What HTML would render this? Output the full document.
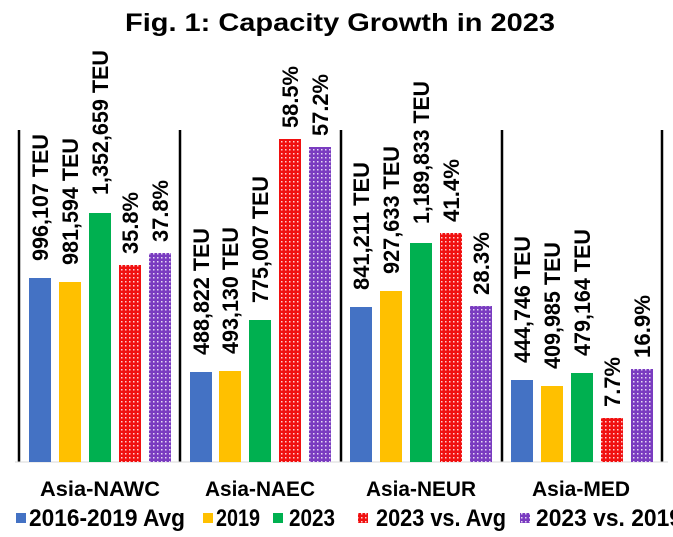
<!DOCTYPE html>
<html><head><meta charset="utf-8"><style>
body{margin:0;background:#fff;}
svg{display:block;font-family:"Liberation Sans","DejaVu Sans",sans-serif;font-weight:bold;}
</style></head><body>
<svg width="673" height="537" viewBox="0 0 673 537">
<defs>
<pattern id="pr" width="4" height="4" patternUnits="userSpaceOnUse"><rect width="4" height="4" fill="#f01010"/><rect x="1" y="1" width="1.5" height="1.5" fill="#ffd0d0"/></pattern>
<pattern id="pp" width="4" height="4" patternUnits="userSpaceOnUse"><rect width="4" height="4" fill="#7a3cc0"/><rect x="1" y="1" width="1.5" height="1.5" fill="#e6d8f5"/></pattern>
</defs>
<text x="340" y="31" font-size="25" text-anchor="middle" fill="#000" textLength="430" lengthAdjust="spacingAndGlyphs">Fig. 1: Capacity Growth in 2023</text>
<g stroke="#000" stroke-width="2.5">
<line x1="19" y1="130" x2="19" y2="462"/><line x1="180" y1="130" x2="180" y2="462"/><line x1="341" y1="130" x2="341" y2="462"/><line x1="502" y1="130" x2="502" y2="462"/><line x1="662" y1="130" x2="662" y2="462"/>
</g>
<line x1="15" y1="462" x2="668" y2="462" stroke="#d9d9d9" stroke-width="1"/>
<g>
<rect x="29" y="278" width="22" height="184" fill="#4472c4"/>
<rect x="59" y="282" width="22" height="180" fill="#ffc000"/>
<rect x="89" y="213" width="22" height="249" fill="#00b050"/>
<rect x="119" y="265" width="22" height="197" fill="url(#pr)"/>
<rect x="149" y="253" width="22" height="209" fill="url(#pp)"/>
<rect x="190" y="372" width="22" height="90" fill="#4472c4"/>
<rect x="219" y="371" width="22" height="91" fill="#ffc000"/>
<rect x="249" y="320" width="22" height="142" fill="#00b050"/>
<rect x="279" y="139" width="22" height="323" fill="url(#pr)"/>
<rect x="309" y="147" width="22" height="315" fill="url(#pp)"/>
<rect x="350" y="307" width="22" height="155" fill="#4472c4"/>
<rect x="380" y="291" width="22" height="171" fill="#ffc000"/>
<rect x="410" y="243" width="22" height="219" fill="#00b050"/>
<rect x="440" y="233" width="22" height="229" fill="url(#pr)"/>
<rect x="470" y="306" width="22" height="156" fill="url(#pp)"/>
<rect x="511" y="380" width="22" height="82" fill="#4472c4"/>
<rect x="541" y="386" width="22" height="76" fill="#ffc000"/>
<rect x="571" y="373" width="22" height="89" fill="#00b050"/>
<rect x="601" y="418" width="22" height="44" fill="url(#pr)"/>
<rect x="631" y="369" width="22" height="93" fill="url(#pp)"/>
</g>
<g font-size="22" fill="#000">
<text transform="translate(48,261) rotate(-90)" textLength="127" lengthAdjust="spacingAndGlyphs">996,107 TEU</text>
<text transform="translate(78,265) rotate(-90)" textLength="127" lengthAdjust="spacingAndGlyphs">981,594 TEU</text>
<text transform="translate(108,195) rotate(-90)" textLength="145" lengthAdjust="spacingAndGlyphs">1,352,659 TEU</text>
<text transform="translate(138,254) rotate(-90)" textLength="62" lengthAdjust="spacingAndGlyphs">35.8%</text>
<text transform="translate(168,242) rotate(-90)" textLength="62" lengthAdjust="spacingAndGlyphs">37.8%</text>
<text transform="translate(209,355) rotate(-90)" textLength="127" lengthAdjust="spacingAndGlyphs">488,822 TEU</text>
<text transform="translate(238,354) rotate(-90)" textLength="127" lengthAdjust="spacingAndGlyphs">493,130 TEU</text>
<text transform="translate(268,303) rotate(-90)" textLength="127" lengthAdjust="spacingAndGlyphs">775,007 TEU</text>
<text transform="translate(298,128) rotate(-90)" textLength="62" lengthAdjust="spacingAndGlyphs">58.5%</text>
<text transform="translate(328,136) rotate(-90)" textLength="62" lengthAdjust="spacingAndGlyphs">57.2%</text>
<text transform="translate(369,290) rotate(-90)" textLength="128" lengthAdjust="spacingAndGlyphs">841,211 TEU</text>
<text transform="translate(399,274) rotate(-90)" textLength="128" lengthAdjust="spacingAndGlyphs">927,633 TEU</text>
<text transform="translate(429,224) rotate(-90)" textLength="143" lengthAdjust="spacingAndGlyphs">1,189,833 TEU</text>
<text transform="translate(459,222) rotate(-90)" textLength="63" lengthAdjust="spacingAndGlyphs">41.4%</text>
<text transform="translate(489,295) rotate(-90)" textLength="63" lengthAdjust="spacingAndGlyphs">28.3%</text>
<text transform="translate(530,363) rotate(-90)" textLength="127" lengthAdjust="spacingAndGlyphs">444,746 TEU</text>
<text transform="translate(560,369) rotate(-90)" textLength="127" lengthAdjust="spacingAndGlyphs">409,985 TEU</text>
<text transform="translate(590,356) rotate(-90)" textLength="127" lengthAdjust="spacingAndGlyphs">479,164 TEU</text>
<text transform="translate(620,407) rotate(-90)" textLength="50" lengthAdjust="spacingAndGlyphs">7.7%</text>
<text transform="translate(650,358) rotate(-90)" textLength="63" lengthAdjust="spacingAndGlyphs">16.9%</text>
</g>
<g font-size="21" fill="#000">
<text x="40" y="496" textLength="120" lengthAdjust="spacingAndGlyphs">Asia-NAWC</text>
<text x="205" y="496" textLength="110" lengthAdjust="spacingAndGlyphs">Asia-NAEC</text>
<text x="366" y="496" textLength="110" lengthAdjust="spacingAndGlyphs">Asia-NEUR</text>
<text x="532" y="496" textLength="98" lengthAdjust="spacingAndGlyphs">Asia-MED</text>
</g>
<g font-size="24" fill="#000">
<rect x="16" y="513" width="10" height="10" fill="#4472c4"/><text x="29" y="526" textLength="156" lengthAdjust="spacingAndGlyphs">2016-2019 Avg</text>
<rect x="203" y="513" width="10" height="10" fill="#ffc000"/><text x="216" y="526" textLength="44" lengthAdjust="spacingAndGlyphs">2019</text>
<rect x="273" y="513" width="10" height="10" fill="#00b050"/><text x="289" y="526" textLength="46" lengthAdjust="spacingAndGlyphs">2023</text>
<rect x="358" y="513" width="10" height="10" fill="url(#pr)"/><text x="376" y="526" textLength="130" lengthAdjust="spacingAndGlyphs">2023 vs. Avg</text>
<rect x="520" y="513" width="10" height="10" fill="url(#pp)"/><text x="536" y="526" textLength="146" lengthAdjust="spacingAndGlyphs">2023 vs. 2019</text>
</g>
</svg>
</body></html>
